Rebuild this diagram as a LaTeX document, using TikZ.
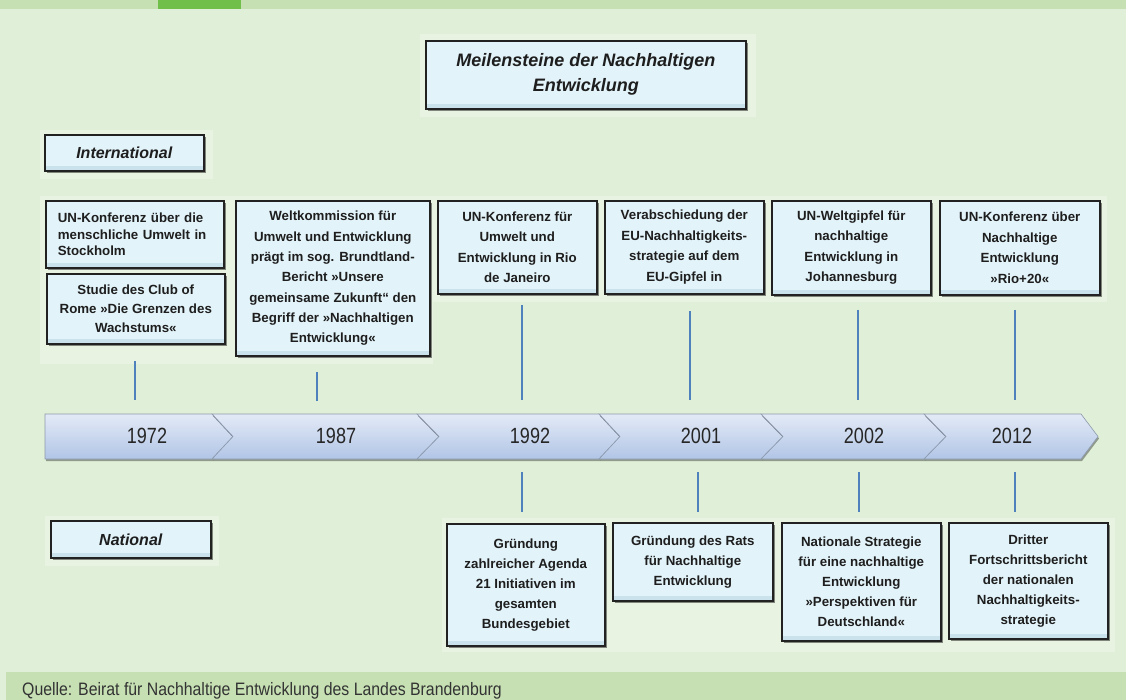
\documentclass[tikz,border=0pt]{standalone}
\usepackage{fontspec}
\setmainfont{Liberation Sans}
\newfontfamily\narrowfont{Liberation Sans}[FakeStretch=0.82]
\newfontfamily\quellefont{Liberation Sans}[FakeStretch=0.88]
\usetikzlibrary{shadows}
\definecolor{bgcol}{HTML}{E0EFD8}
\definecolor{stripcol}{HTML}{C6E0B4}
\definecolor{darkgreen}{HTML}{70BF4B}
\definecolor{backcol}{HTML}{E8F4E1}
\definecolor{boxfill}{HTML}{E2F3F9}
\definecolor{boxband}{HTML}{C9E2EC}
\definecolor{bordercol}{HTML}{222222}
\definecolor{conncol}{HTML}{4F81BD}
\definecolor{tltop}{HTML}{E3EAF6}
\definecolor{tlbottom}{HTML}{B1C5E6}
\definecolor{tledge}{HTML}{8C99AD}
\definecolor{textcol}{HTML}{1E1E1E}
\tikzset{
  ibox/.style={draw=bordercol, line width=1.6pt, fill=boxfill, inner sep=0pt,
    drop shadow={shadow xshift=2.5pt, shadow yshift=-2.5pt, fill=black, opacity=0.45},
    path picture={\fill[boxband] ([yshift=5pt]path picture bounding box.south west) rectangle (path picture bounding box.south east);},
    anchor=north west, text=textcol, align=center,
    font=\fontsize{13.3}{20.5}\selectfont\bfseries},
  lbox/.style={ibox, font=\fontsize{16}{20}\selectfont\bfseries\itshape},
  backing/.style={fill=backcol},
  conn/.style={draw=conncol, line width=1.5pt},
  tlseg/.style={draw=tledge, line width=0.6pt, top color=tltop, bottom color=tlbottom,
    drop shadow={shadow xshift=1pt, shadow yshift=-2pt, fill=black, opacity=0.35}},
  yearlbl/.style={font=\narrowfont\fontsize{22}{24}\selectfont, text=black!85},
}
\begin{document}
\begin{tikzpicture}[x=1pt,y=-1pt]
\useasboundingbox (0,0) rectangle (1126,700);
\fill[bgcol] (0,0) rectangle (1126,700);
\fill[stripcol] (0,0) rectangle (1126,9);
\fill[darkgreen] (158,0) rectangle (241,9);
\fill[stripcol] (6,672) rectangle (1126,700);

% backing panels
\fill[backing] (420,34) rectangle (756,117);
\fill[backing] (40,130) rectangle (213,179);
\fill[backing] (45,516) rectangle (219,566);
\fill[backing] (40,196) rectangle (433,364);
\fill[backing] (433,196) rectangle (1107,302);
\fill[backing] (442,518) rectangle (1115,652);

% title and labels
\node[ibox, minimum width=320pt, minimum height=68pt, font=\fontsize{18}{25}\selectfont\bfseries\itshape] (title) at (425,40)
  {Meilensteine der Nachhaltigen\\Entwicklung};
\node[lbox, minimum width=159pt, minimum height=36pt] (intl) at (44,134) {International};
\node[lbox, minimum width=160pt, minimum height=37pt] (natl) at (50,520) {National};

% international boxes
\node[ibox, minimum width=178pt, minimum height=67pt, text width=154pt, inner xsep=12pt, align=left,
  font=\fontsize{13.3}{16.7}\selectfont\bfseries] (stock) at (45,200)
  {UN-Konferenz über die\\menschliche Umwelt in\\Stockholm};
\node[ibox, minimum width=178pt, minimum height=70pt, font=\fontsize{13.3}{19.3}\selectfont\bfseries] (club) at (46,273)
  {Studie des Club of\\Rome »Die Grenzen des\\Wachstums«};
\node[ibox, minimum width=194pt, minimum height=155pt, font=\fontsize{13.3}{20.3}\selectfont\bfseries] (welt) at (235,200)
  {Weltkommission für\\Umwelt und Entwicklung\\prägt im sog. Brundtland-\\Bericht »Unsere\\gemeinsame Zukunft“ den\\Begriff der »Nachhaltigen\\Entwicklung«};
\node[ibox, minimum width=159pt, minimum height=93pt] (rio) at (437,200)
  {UN-Konferenz für\\Umwelt und\\Entwicklung in Rio\\de Janeiro};
\node[ibox, minimum width=159pt, minimum height=93pt] (eu) at (604,200)
  {Verabschiedung der\\EU-Nachhaltigkeits-\\strategie auf dem\\EU-Gipfel in};
\node[ibox, minimum width=159pt, minimum height=94pt] (joh) at (771,200)
  {UN-Weltgipfel für\\nachhaltige\\Entwicklung in\\Johannesburg};
\node[ibox, minimum width=160pt, minimum height=94pt] (rio20) at (939,200)
  {UN-Konferenz über\\Nachhaltige\\Entwicklung\\»Rio+20«};

% national boxes
\node[ibox, minimum width=158pt, minimum height=122pt, font=\fontsize{13.3}{20}\selectfont\bfseries] (agenda) at (446,523)
  {Gründung\\zahlreicher Agenda\\21 Initiativen im\\gesamten\\Bundesgebiet};
\node[ibox, minimum width=160pt, minimum height=78pt, font=\fontsize{13.3}{20}\selectfont\bfseries] (rats) at (612,522)
  {Gründung des Rats\\für Nachhaltige\\Entwicklung};
\node[ibox, minimum width=159pt, minimum height=118pt, font=\fontsize{13.3}{20}\selectfont\bfseries] (natstr) at (781,522)
  {Nationale Strategie\\für eine nachhaltige\\Entwicklung\\»Perspektiven für\\Deutschland«};
\node[ibox, minimum width=159pt, minimum height=116pt, font=\fontsize{13.3}{20}\selectfont\bfseries] (dritter) at (948,522)
  {Dritter\\Fortschrittsbericht\\der nationalen\\Nachhaltigkeits-\\strategie};

% timeline
\path[tlseg] (45,414) -- (212,414) -- (233,436.5) -- (212,459) -- (45,459) -- cycle;
\path[tlseg] (212,414) -- (417,414) -- (439,436.5) -- (417,459) -- (212,459) -- (233,436.5) -- cycle;
\path[tlseg] (417,414) -- (599,414) -- (620,436.5) -- (599,459) -- (417,459) -- (439,436.5) -- cycle;
\path[tlseg] (599,414) -- (761,414) -- (783,436.5) -- (761,459) -- (599,459) -- (620,436.5) -- cycle;
\path[tlseg] (761,414) -- (924,414) -- (946,436.5) -- (924,459) -- (761,459) -- (783,436.5) -- cycle;
\path[tlseg] (924,414) -- (1081,414) -- (1098,436.5) -- (1081,459) -- (924,459) -- (946,436.5) -- cycle;

\node[yearlbl] (y1972) at (147,436) {1972};
\node[yearlbl] (y1987) at (336,436) {1987};
\node[yearlbl] (y1992) at (530,436) {1992};
\node[yearlbl] (y2001) at (701,436) {2001};
\node[yearlbl] (y2002) at (864,436) {2002};
\node[yearlbl] (y2012) at (1012,436) {2012};

% connectors
\coordinate (a1) at (135,361); \coordinate (b1) at (135,400);
\coordinate (a2) at (317,372); \coordinate (b2) at (317,401);
\coordinate (a3) at (522,305); \coordinate (b3) at (522,400);
\coordinate (a4) at (690,311); \coordinate (b4) at (690,400);
\coordinate (a5) at (858,310); \coordinate (b5) at (858,400);
\coordinate (a6) at (1015,310); \coordinate (b6) at (1015,400);
\draw[conn] (a1) -- (b1);
\draw[conn] (a2) -- (b2);
\draw[conn] (a3) -- (b3);
\draw[conn] (a4) -- (b4);
\draw[conn] (a5) -- (b5);
\draw[conn] (a6) -- (b6);
\coordinate (c3) at (522,472); \coordinate (d3) at (522,512);
\coordinate (c4) at (698,472); \coordinate (d4) at (698,512);
\coordinate (c5) at (859,472); \coordinate (d5) at (859,512);
\coordinate (c6) at (1015,472); \coordinate (d6) at (1015,512);
\draw[conn] (c3) -- (d3);
\draw[conn] (c4) -- (d4);
\draw[conn] (c5) -- (d5);
\draw[conn] (c6) -- (d6);

\node[anchor=west, font=\quellefont\fontsize{18}{20}\selectfont, text=black!80, inner sep=0pt] (quelle) at (22,691)
  {Quelle: Beirat für Nachhaltige Entwicklung des Landes Brandenburg};
\end{tikzpicture}
\end{document}
